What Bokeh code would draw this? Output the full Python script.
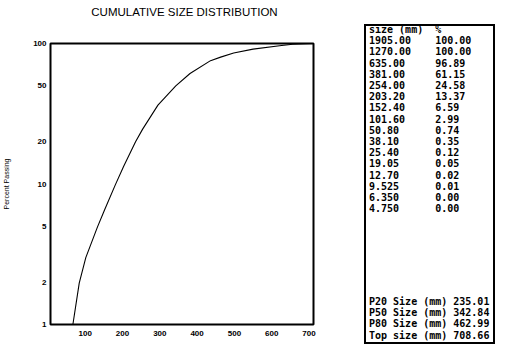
from bokeh.plotting import figure
from bokeh.layouts import row, column
from bokeh.models import Range1d, FixedTicker, NumeralTickFormatter, Div
from bokeh.embed import file_html
from bokeh.resources import INLINE

# ---- data ----
title_text = "CUMULATIVE SIZE DISTRIBUTION"
size_labels = ["1905.00", "1270.00", "635.00", "381.00", "254.00", "203.20", "152.40", "101.60",
               "50.80", "38.10", "25.40", "19.05", "12.70", "9.525", "6.350", "4.750"]
pct_labels = ["100.00", "100.00", "96.89", "61.15", "24.58", "13.37", "6.59", "2.99",
              "0.74", "0.35", "0.12", "0.05", "0.02", "0.01", "0.00", "0.00"]
summary_names = ["P20 Size (mm)", "P50 Size (mm)", "P80 Size (mm)", "Top size (mm)"]
summary_values = ["235.01", "342.84", "462.99", "708.66"]
# points read along the drawn (smoothed) curve
curve_size = [67, 84, 101.6, 133, 152.4, 181, 203.2, 235.01, 254, 295, 342.84, 381,
              436, 462.99, 498, 550, 621, 656, 690, 708.66]
curve_pct = [1.0, 1.97, 2.99, 4.95, 6.59, 9.9, 13.37, 20.0, 24.58, 36.4, 50.0, 61.15,
             75.5, 80.0, 85.5, 91.2, 96.3, 98.8, 99.7, 100.0]
x_ticks = [100, 200, 300, 400, 500, 600, 700]
y_ticks = [1, 2, 5, 10, 20, 50, 100]

# ---- geometry ----
TITLE_H = 9
W, H = 359, 320
FL, FR = 46, 313
TW = 131

# ---- title (HTML text above the chart) ----
title = Div(
    text=(f"<div style=\"position:relative;width:{W}px;height:{TITLE_H}px;\">"
          f"<div style=\"position:absolute;left:{FL}px;width:{FR - FL}px;top:-2px;"
          "text-align:center;font-family:'Liberation Sans',Arial,sans-serif;"
          "font-size:11.5px;line-height:12px;color:black;white-space:nowrap;\">"
          f"{title_text}</div></div>"),
    width=W + TW, height=TITLE_H)

# ---- main chart ----
p = figure(width=W, height=H, x_range=Range1d(7, 712), y_range=Range1d(1, 100),
           y_axis_type="log", output_backend="svg", toolbar_location=None, title=None,
           min_border_left=FL, min_border_right=W - FR, min_border_top=24,
           min_border_bottom=15)

p.line(curve_size, curve_pct, line_color="black", line_width=1.1)

p.xaxis.ticker = FixedTicker(ticks=x_ticks)
p.yaxis.ticker = FixedTicker(ticks=y_ticks)
p.yaxis.formatter = NumeralTickFormatter(format="0")
for ax in (p.xaxis[0], p.yaxis[0]):
    ax.axis_line_color = None
    ax.major_tick_line_color = None
    ax.minor_tick_line_color = None
    ax.major_tick_out = 0
    ax.major_tick_in = 0
    ax.minor_tick_out = 0
    ax.minor_tick_in = 0
    ax.major_label_text_font = "Liberation Sans"
    ax.major_label_text_font_size = "8px"
    ax.major_label_text_font_style = "bold"
    ax.major_label_text_color = "black"
p.xaxis.major_label_standoff = 6
p.yaxis.major_label_standoff = 4
p.yaxis.axis_label = "Percent Passing"
p.yaxis.axis_label_text_font = "Liberation Sans"
p.yaxis.axis_label_text_font_size = "7px"
p.yaxis.axis_label_text_font_style = "normal"
p.yaxis.axis_label_text_color = "black"
p.yaxis.axis_label_standoff = 20
p.grid.visible = False
p.outline_line_color = "black"
p.outline_line_width = 2
p.outline_line_alpha = 1

# ---- table panel (HTML text) ----
lines = [f"{'size (mm)':<11}%"] + [f"{s:<11}{v}" for s, v in zip(size_labels, pct_labels)]
summary = [f"{n} {v}" for n, v in zip(summary_names, summary_values)]
font = ("font-family:'DejaVu Sans Mono',monospace;font-size:10px;line-height:11.2px;"
        "font-weight:bold;color:black;white-space:pre;position:absolute;left:3px;")
html = (
    f"<div style=\"position:relative;width:{TW}px;height:{H}px;"
    "border:2px solid black;box-sizing:border-box;overflow:hidden;background:white;\">"
    f"<div style=\"{font}top:-2px;\">" + "\n".join(lines) + "</div>"
    f"<div style=\"{font}top:270px;\">" + "\n".join(summary) + "</div>"
    "</div>"
)
table = Div(text=html, width=TW, height=H)

layout = column(title, row(p, table, spacing=0), spacing=0)
open("out.html", "w").write(file_html(layout, INLINE))
